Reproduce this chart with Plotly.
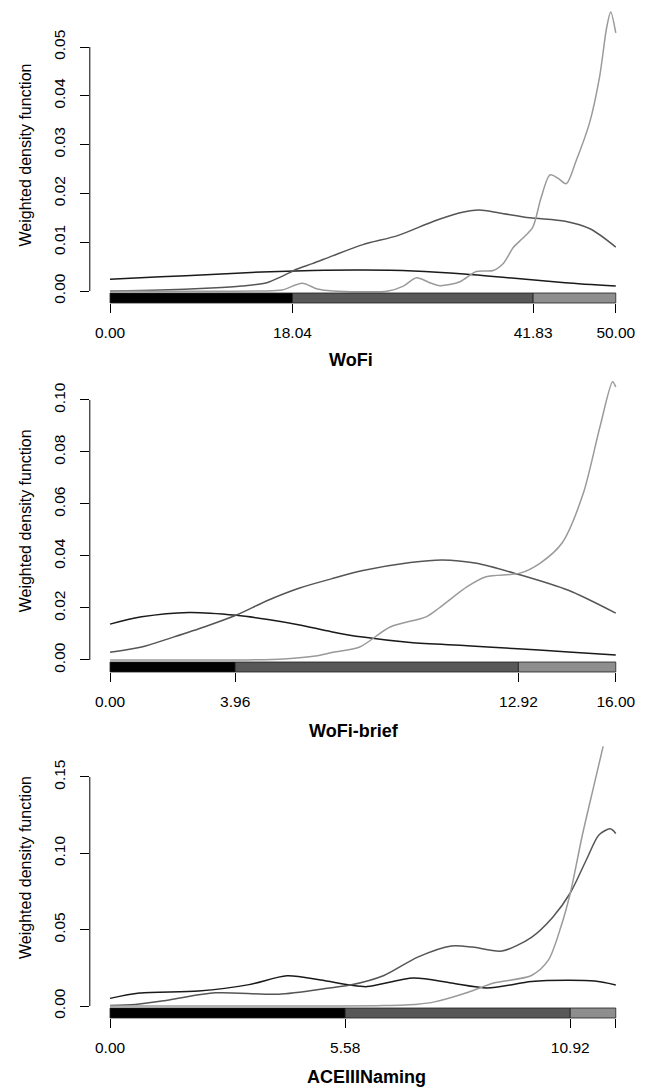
import plotly.graph_objects as go

# ---------------- data ----------------
# Panel 1: WoFi
wofi_cuts = [0, 18.04, 41.83, 50]
wofi_xticktext = ["0.00", "18.04", "41.83", "50.00"]
wofi_yticks = [0, 0.01, 0.02, 0.03, 0.04, 0.05]
wofi_black_x = [0, 5, 10, 15, 20, 25, 30, 35, 40, 45, 50]
wofi_black_y = [0.0024, 0.0029, 0.0034, 0.0039, 0.0042, 0.0043, 0.0041, 0.0035, 0.0026, 0.0017, 0.0010]
wofi_dark_x = [0, 5, 10, 13, 15.5, 17, 18.5, 20, 22, 25, 28.5, 32, 34.5, 36.5, 38.5, 41.5, 45, 47.5, 50]
wofi_dark_y = [0.0000, 0.0002, 0.0006, 0.0010, 0.0017, 0.0030, 0.0045, 0.0056, 0.0072, 0.0095, 0.0114,
               0.0143, 0.0160, 0.0166, 0.0160, 0.0150, 0.0143, 0.0127, 0.0090]
wofi_light_x = [0, 15, 17, 19, 20.5, 22, 27.5, 29, 30.3, 31.5, 32.6, 34.6, 36.2, 37.9, 38.9, 39.9, 40.8,
                41.8, 42.6, 43.5, 44.3, 45.1, 46.1, 47.4, 48.4, 49.1, 49.5, 50]
wofi_light_y = [0, 0, 0.0002, 0.0016, 0.0004, 0, 0, 0.0010, 0.0027, 0.0018, 0.0011, 0.0019, 0.0040, 0.0042,
                0.0057, 0.0090, 0.0108, 0.0131, 0.0190, 0.0238, 0.0231, 0.0220, 0.0268, 0.0344, 0.0439,
                0.0540, 0.0572, 0.0529]

# Panel 2: WoFi-brief
brief_cuts = [0, 3.96, 12.92, 16]
brief_xticktext = ["0.00", "3.96", "12.92", "16.00"]
brief_yticks = [0, 0.02, 0.04, 0.06, 0.08, 0.10]
brief_black_x = [0, 1, 2.5, 4, 5, 6, 7, 8, 9.5, 11.3, 12.9, 14.5, 16]
brief_black_y = [0.0138, 0.0166, 0.0183, 0.0172, 0.0156, 0.0135, 0.0109, 0.0088, 0.0067, 0.0055, 0.0043,
                 0.0031, 0.0019]
brief_dark_x = [0, 1, 2, 3, 4, 5, 6, 7, 8, 9.5, 10.5, 11.6, 12.9, 14.5, 16]
brief_dark_y = [0.0030, 0.0050, 0.0088, 0.0128, 0.0173, 0.0230, 0.0277, 0.0312, 0.0344, 0.0375, 0.0385,
                0.0372, 0.0330, 0.0268, 0.0180]
brief_light_x = [0, 4, 5.5, 6.5, 7.06, 7.9, 8.86, 10.0, 10.4, 11.3, 11.9, 12.97, 13.6, 14.3, 14.97, 15.5,
                 15.9, 16]
brief_light_y = [0, 0, 0.0004, 0.0015, 0.0030, 0.0050, 0.0127, 0.0166, 0.0199, 0.0282, 0.0320, 0.0334,
                 0.0372, 0.0450, 0.0640, 0.0897, 0.1070, 0.1050]

# Panel 3: ACEIIINaming
ace_cuts = [0, 5.58, 10.92, 12]
ace_xticktext = ["0.00", "5.58", "10.92", ""]
ace_yticks = [0, 0.05, 0.10, 0.15]
ace_black_x = [0, 0.7, 2.1, 3.3, 4.2, 5.0, 5.7, 6.1, 7.2, 8.1, 8.95, 10.0, 10.85, 11.5, 12]
ace_black_y = [0.0050, 0.0085, 0.0098, 0.0140, 0.0198, 0.0170, 0.0137, 0.0127, 0.0183, 0.0150, 0.0118,
               0.0160, 0.0168, 0.0163, 0.0138]
ace_dark_x = [0, 0.6, 1.4, 2.5, 4.0, 5.2, 5.7, 6.5, 7.3, 8.1, 8.6, 9.3, 10.0, 10.5, 10.92, 11.3, 11.6,
              11.87, 12]
ace_dark_y = [0.0003, 0.0010, 0.0040, 0.0086, 0.0077, 0.0118, 0.0137, 0.0200, 0.0320, 0.0393, 0.0386,
              0.0360, 0.0450, 0.0580, 0.0740, 0.0956, 0.1120, 0.1160, 0.1130]
ace_light_x = [0, 5, 6.5, 7.3, 7.7, 8.5, 9.1, 10.0, 10.4, 10.7, 10.93, 11.2, 11.47, 11.7]
ace_light_y = [0, 0, 0.0003, 0.0012, 0.0027, 0.0090, 0.0150, 0.0200, 0.0300, 0.0520, 0.0750, 0.1110,
               0.1430, 0.1700]

titles = ["WoFi", "WoFi-brief", "ACEIIINaming"]
ytitle = "Weighted density function"

# ---------------- styling / layout ----------------
# the page body has an 8px margin, so the figure is drawn 8px in from the window corner
OFF = 8
WIN_W, WIN_H = 646, 1088
W, H = WIN_W - OFF, WIN_H - OFF


def fx(px):
    return (px - OFF) / W


def fy(py):
    return 1 - (py - OFF) / H


line_colors = ["#1a1a1a", "#555555", "#9a9a9a"]
bar_colors = ["#000000", "#585858", "#8e8e8e"]
FONT = "Liberation Sans, Arial, Helvetica, sans-serif"
TICK_SIZE = 15.5

panels = [
    dict(cuts=wofi_cuts, ttext=wofi_xticktext, yticks=wofi_yticks,
         series=[(wofi_black_x, wofi_black_y), (wofi_dark_x, wofi_dark_y), (wofi_light_x, wofi_light_y)],
         top_px=8, bot_px=303, yrange=[-0.00246, 0.0580], title=titles[0], tpos=(351, 360)),
    dict(cuts=brief_cuts, ttext=brief_xticktext, yticks=brief_yticks,
         series=[(brief_black_x, brief_black_y), (brief_dark_x, brief_dark_y), (brief_light_x, brief_light_y)],
         top_px=370.6, bot_px=672, yrange=[-0.00462, 0.1113], title=titles[1], tpos=(354, 731)),
    dict(cuts=ace_cuts, ttext=ace_xticktext, yticks=ace_yticks,
         series=[(ace_black_x, ace_black_y), (ace_dark_x, ace_dark_y), (ace_light_x, ace_light_y)],
         top_px=718, bot_px=1018, yrange=[-0.00786, 0.1886], title=titles[2], tpos=(366, 1077)),
]

x_dom = [fx(89.8), fx(636)]
strip_px = 10

fig = go.Figure()
layout = dict(width=W, height=H, margin=dict(l=0, r=0, t=0, b=0),
              paper_bgcolor="white", plot_bgcolor="white", showlegend=False,
              font=dict(family=FONT, size=15, color="black"))
shapes, annotations = [], []

for i, p in enumerate(panels):
    n = "" if i == 0 else str(i + 1)
    xa, ya = "x" + n, "y" + n
    xmax = p["cuts"][-1]
    ext = 0.04 * xmax
    for (xs, ys), col in zip(p["series"], line_colors):
        fig.add_trace(go.Scatter(x=xs, y=ys, mode="lines", xaxis=xa, yaxis=ya,
                                 line=dict(color=col, width=1.5, shape="spline", smoothing=0.8),
                                 hoverinfo="skip"))
    dom_y = [fy(p["bot_px"]), fy(p["top_px"])]
    dom_h = p["bot_px"] - p["top_px"]
    layout["xaxis" + n] = dict(domain=x_dom, range=[-ext, xmax + ext], anchor=ya,
                               showline=False, showgrid=False, zeroline=False,
                               ticks="outside", ticklen=9, tickwidth=1, tickcolor="black",
                               tickvals=p["cuts"], ticktext=p["ttext"], ticklabelstandoff=6,
                               tickfont=dict(size=TICK_SIZE, family=FONT, color="black"))
    layout["yaxis" + n] = dict(domain=dom_y, range=p["yrange"], anchor=xa,
                               showline=False, showgrid=False, zeroline=False,
                               ticks="outside", ticklen=9, tickwidth=1, tickcolor="black",
                               tickvals=p["yticks"], ticktext=["%.2f" % v for v in p["yticks"]],
                               tickangle=-90, ticklabelstandoff=9,
                               tickfont=dict(size=TICK_SIZE, family=FONT, color="black"))
    # y axis line from 0 to the highest tick (R style)
    shapes.append(dict(type="line", xref=xa + " domain", yref=ya, x0=0, x1=0,
                       y0=p["yticks"][0], y1=p["yticks"][-1], line=dict(color="black", width=1)))
    # category strip under the curves
    for j in range(len(p["cuts"]) - 1):
        shapes.append(dict(type="rect", xref=xa, yref=ya + " domain",
                           x0=p["cuts"][j], x1=p["cuts"][j + 1], y0=0, y1=strip_px / dom_h,
                           fillcolor=bar_colors[j], line=dict(color="#202020", width=0.8), layer="above"))
    # titles
    annotations.append(dict(text="<b>%s</b>" % p["title"], xref="paper", yref="paper",
                            x=fx(p["tpos"][0]), y=fy(p["tpos"][1]), showarrow=False,
                            xanchor="center", yanchor="middle",
                            font=dict(size=18, family=FONT, color="black")))
    annotations.append(dict(text=ytitle, xref="paper", yref="paper", textangle=-90,
                            x=fx(25), y=(dom_y[0] + dom_y[1]) / 2 if i < 2 else fy(868),
                            showarrow=False, xanchor="center", yanchor="middle",
                            font=dict(size=16, family=FONT, color="black")))

layout["shapes"] = shapes
layout["annotations"] = annotations
fig.update_layout(**layout)
fig.write_html("out.html")
